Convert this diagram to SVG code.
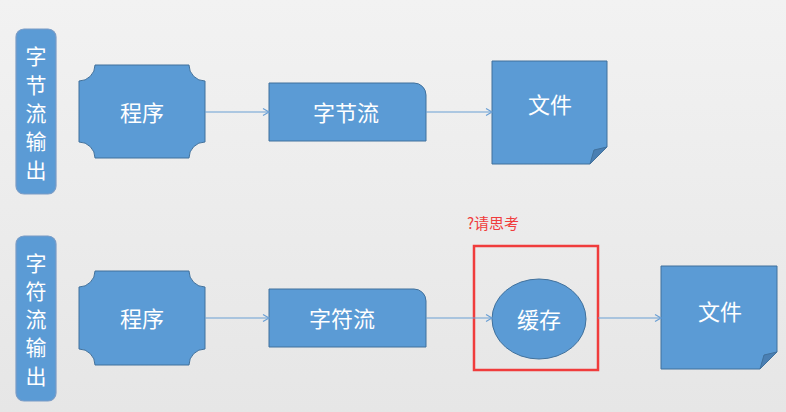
<svg xmlns="http://www.w3.org/2000/svg" width="786" height="412" viewBox="0 0 786 412">
<defs>
<linearGradient id="bg" x1="0" y1="0" x2="0" y2="1">
<stop offset="0" stop-color="#f2f2f2"/>
<stop offset="1" stop-color="#e6e6e6"/>
</linearGradient>
<marker id="arr" markerWidth="10" markerHeight="10" refX="8" refY="5" orient="auto" markerUnits="userSpaceOnUse">
<path d="M2,1.5 L8,5 L2,8.5" fill="none" stroke="#6a9fd4" stroke-width="1.2"/>
</marker>
<style>
.sh{fill:#5b9bd5;stroke:#41719c;stroke-width:1}
.tag{fill:#5b9bd5;stroke:#7a9cc6;stroke-width:1.2}
.t{fill:#ffffff;font-family:"Noto Sans CJK SC","Noto Sans",sans-serif;font-size:22px;text-anchor:middle;dominant-baseline:central}
.v{font-size:21px}
.c{stroke:#6a9fd4;stroke-width:1.2;fill:none;marker-end:url(#arr)}
.fold{fill:#4a7fb3;stroke:#41719c;stroke-width:1}
</style>
</defs>
<rect width="786" height="412" fill="url(#bg)"/>

<g id="tag1">
<rect class="tag" x="16" y="29" width="40" height="165" rx="8"/>
<text class="t v" x="36" y="55">字</text>
<text class="t v" x="36" y="84">节</text>
<text class="t v" x="36" y="112">流</text>
<text class="t v" x="36" y="140">输</text>
<text class="t v" x="36" y="169">出</text>
</g>

<g id="prog1">
<path class="sh" d="M95,65 H189 A16,16 0 0 0 205,81 V142 A16,16 0 0 0 189,158 H95 A16,16 0 0 0 79,142 V81 A16,16 0 0 0 95,65 Z"/>
<text class="t" x="142" y="111">程序</text>
</g>

<g id="byte">
<path class="sh" d="M269,83 H414 A12,12 0 0 1 426,95 V141 H269 Z"/>
<text class="t" x="346" y="111">字节流</text>
</g>

<g id="file1">
<path class="sh" d="M492,61 H607 V147 L590,164 H492 Z"/>
<path class="fold" d="M590,164 L594,150 L607,147 Z"/>
<text class="t" x="550" y="103">文件</text>
</g>

<g id="tag2">
<rect class="tag" x="16" y="236" width="40" height="165" rx="8"/>
<text class="t v" x="36" y="262">字</text>
<text class="t v" x="36" y="290">符</text>
<text class="t v" x="36" y="318">流</text>
<text class="t v" x="36" y="346">输</text>
<text class="t v" x="36" y="375">出</text>
</g>

<g id="prog2">
<path class="sh" d="M95,271 H189 A16,16 0 0 0 205,287 V349 A16,16 0 0 0 189,365 H95 A16,16 0 0 0 79,349 V287 A16,16 0 0 0 95,271 Z"/>
<text class="t" x="142" y="317">程序</text>
</g>

<g id="char">
<path class="sh" d="M269,289 H414 A12,12 0 0 1 426,301 V347 H269 Z"/>
<text class="t" x="342" y="317">字符流</text>
</g>

<g id="note">
<text x="493" y="222" fill="#f03c3c" font-family="'Noto Sans CJK SC','Noto Sans',sans-serif" font-size="15" text-anchor="middle" dominant-baseline="central">?请思考</text>
<rect x="474" y="246" width="124" height="124" fill="none" stroke="#f03c3c" stroke-width="2.5"/>
</g>

<g id="buffer">
<ellipse class="sh" cx="539" cy="319" rx="47" ry="40"/>
<text class="t" x="539" y="318">缓存</text>
</g>

<g id="file2">
<path class="sh" d="M661,266 H777 V352 L760,369 H661 Z"/>
<path class="fold" d="M760,369 L764,355 L777,352 Z"/>
<text class="t" x="720" y="310">文件</text>
</g>

<g id="connectors">
<line class="c" x1="205" y1="112" x2="269" y2="112"/>
<line class="c" x1="426" y1="112" x2="492" y2="112"/>
<line class="c" x1="205" y1="318" x2="269" y2="318"/>
<line class="c" x1="426" y1="318" x2="492" y2="318"/>
<line class="c" x1="598" y1="318" x2="661" y2="318"/>
</g>
</svg>
